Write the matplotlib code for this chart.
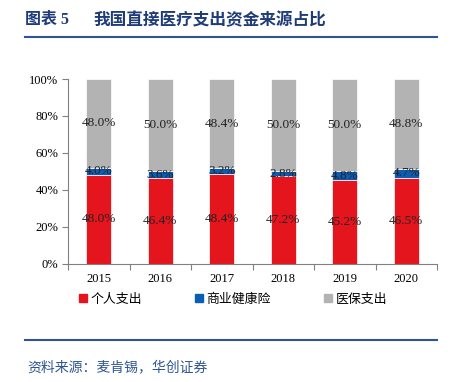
import numpy as np
import matplotlib
matplotlib.use("Agg")
import matplotlib.pyplot as plt
from matplotlib.patches import Patch
from matplotlib.lines import Line2D

years = ["2015", "2016", "2017", "2018", "2019", "2020"]
personal = [48.0, 46.4, 48.4, 47.2, 45.2, 46.5]
commercial = [4.0, 3.6, 3.2, 2.8, 4.8, 4.7]
insurance = [48.0, 50.0, 48.4, 50.0, 50.0, 48.8]
series_names = ["个人支出", "商业健康险", "医保支出"]
yticks = [0, 20, 40, 60, 80, 100]

RED = "#E5151E"
BLUE = "#0B5DB3"
GRAY = "#B3B3B3"
NAVY = "#1F3C78"
SERIF = ["Liberation Serif", "Noto Sans CJK SC"]
SANS = ["Noto Sans CJK SC", "DejaVu Sans"]

plt.rcParams["font.family"] = SERIF

fig = plt.figure(figsize=(4.51, 3.82), dpi=100)
ax = fig.add_axes([68 / 451, 1 - 263.5 / 382, (437 - 68) / 451, (263.5 - 79) / 382])

x = np.arange(len(years))
w = 0.4
b1 = ax.bar(x, personal, w, color=RED, edgecolor="white", linewidth=0.5)
b2 = ax.bar(x, commercial, w, bottom=personal, color=BLUE, edgecolor="white", linewidth=0.5)
bottom3 = np.array(personal) + np.array(commercial)
b3 = ax.bar(x, insurance, w, bottom=bottom3, color=GRAY, edgecolor="white", linewidth=0.5)

for bars, vals in [(b1, personal), (b2, commercial), (b3, insurance)]:
    ax.bar_label(bars, labels=["%.1f%%" % v for v in vals], label_type="center",
                 fontsize=9.5, color="#222222")

ax.set_xlim(-0.5, len(years) - 0.5)
ax.set_ylim(0, 100)
ax.set_yticks(yticks)
ax.set_yticklabels(["%d%%" % t for t in yticks], fontsize=9)
ax.set_xticks(x)
ax.set_xticklabels(years, fontsize=9)
ax.set_xticks(np.arange(-0.5, len(years)), minor=True)
ax.tick_params(axis="x", which="major", length=0, pad=7)
ax.tick_params(axis="x", which="minor", length=4, color="#808080", width=0.8)
ax.tick_params(axis="y", length=4, color="#808080", width=0.8, pad=3)
for s in ["top", "right"]:
    ax.spines[s].set_visible(False)
for s in ["left", "bottom"]:
    ax.spines[s].set_color("#808080")
    ax.spines[s].set_linewidth(0.8)

handles = [Patch(color=c) for c in [RED, BLUE, GRAY]]
fig.legend(handles, series_names, loc="center left", bbox_to_anchor=(79 / 451, 1 - 299 / 382),
           ncol=3, frameon=False, prop={"family": SANS, "size": 9.3},
           handlelength=0.6, handleheight=0.6, handletextpad=0.3, columnspacing=4.1,
           borderpad=0, borderaxespad=0)

# title and rules
fig.text(25 / 451, 1 - 20 / 382, "图表 5", fontsize=11.5, fontweight="bold", color=NAVY,
         family=SERIF, va="center")
fig.text(93 / 451, 1 - 20 / 382, "我国直接医疗支出资金来源占比", fontsize=12, fontweight="bold",
         color=NAVY, family=SANS, va="center")
fig.add_artist(Line2D([25 / 451, 437 / 451], [1 - 37 / 382] * 2, color="#2E5593", lw=1.5))
fig.add_artist(Line2D([25 / 451, 437 / 451], [1 - 340 / 382] * 2, color="#2E5593", lw=1.5))
fig.text(27 / 451, 1 - 367 / 382, "资料来源：麦肯锡，华创证券", fontsize=10, style="italic",
         color="#2E5593", family=SANS, va="center")

fig.savefig("out.png", dpi=100)
